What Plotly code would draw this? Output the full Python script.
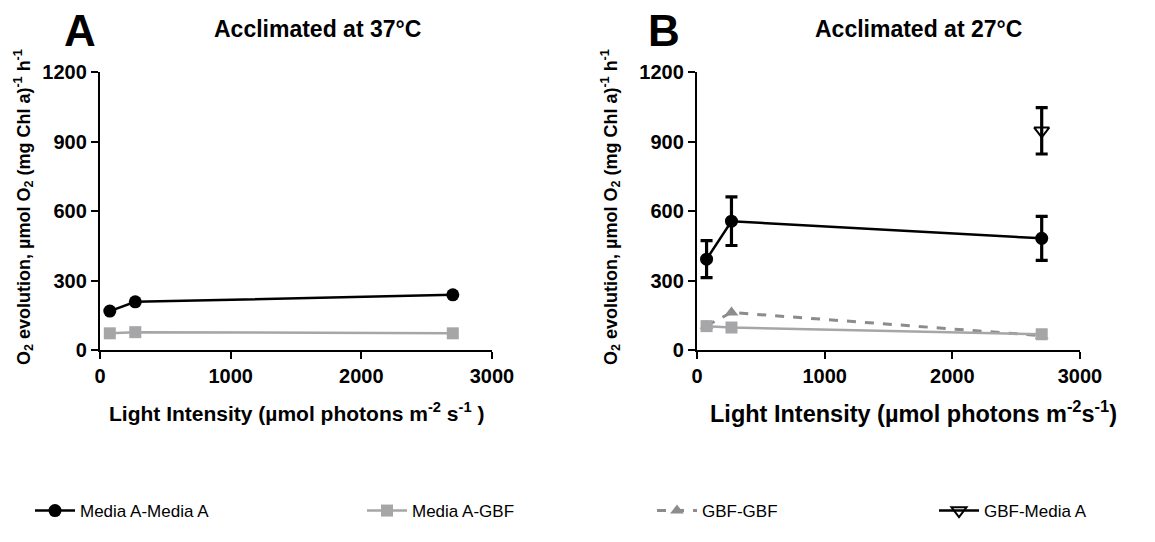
import plotly.graph_objects as go

# ---- data ----
light = [75, 270, 2700]

# Panel A (acclimated at 37 °C)
a_mediaA_mediaA = [168, 208, 238]
a_mediaA_gbf = [72, 77, 72]

# Panel B (acclimated at 27 °C)
b_mediaA_mediaA = [392, 556, 482]
b_mediaA_mediaA_err = [80, 105, 95]
b_mediaA_gbf = [103, 97, 68]
b_gbf_gbf = [105, 162, 62]
b_gbf_mediaA_x = [2700]
b_gbf_mediaA = [946]
b_gbf_mediaA_err = [100]

series_names = ["Media A-Media A", "Media A-GBF", "GBF-GBF", "GBF-Media A"]
titles = ["Acclimated at 37°C", "Acclimated at 27°C"]
panel_letters = ["A", "B"]
x_titles = [
    "Light Intensity (µmol photons m<sup>-2</sup> s<sup>-1</sup> )",
    "Light Intensity (µmol photons m<sup>-2</sup>s<sup>-1</sup>)",
]
y_title = "O<sub>2</sub> evolution, µmol O<sub>2</sub> (mg Chl a)<sup>-1</sup> h<sup>-1</sup>"
x_ticks = [0, 1000, 2000, 3000]
y_ticks = [0, 300, 600, 900, 1200]

FONT = "Liberation Sans, Arial, sans-serif"
W, H = 1155, 542
BLACK = "#000000"
LGRAY = "#a6a6a8"
DGRAY = "#8c8c8e"

fig = go.Figure()

# Panel A traces
fig.add_trace(go.Scatter(x=light, y=a_mediaA_mediaA, mode="lines+markers",
                         line=dict(color=BLACK, width=2.5),
                         marker=dict(symbol="circle", size=13, color=BLACK),
                         xaxis="x", yaxis="y", showlegend=False, cliponaxis=False))
fig.add_trace(go.Scatter(x=light, y=a_mediaA_gbf, mode="lines+markers",
                         line=dict(color=LGRAY, width=2.5),
                         marker=dict(symbol="square", size=12, color=LGRAY),
                         xaxis="x", yaxis="y", showlegend=False, cliponaxis=False))

# Panel B traces
fig.add_trace(go.Scatter(x=light, y=b_gbf_gbf, mode="lines+markers", name=series_names[2],
                         line=dict(color=DGRAY, width=3, dash="dash"),
                         marker=dict(symbol="triangle-up", size=12, color=DGRAY),
                         xaxis="x2", yaxis="y2", legend="legend3", cliponaxis=False))
fig.add_trace(go.Scatter(x=light, y=b_mediaA_gbf, mode="lines+markers", name=series_names[1],
                         line=dict(color=LGRAY, width=2.5),
                         marker=dict(symbol="square", size=12, color=LGRAY),
                         xaxis="x2", yaxis="y2", legend="legend2", cliponaxis=False))
fig.add_trace(go.Scatter(x=light, y=b_mediaA_mediaA, mode="lines+markers", name=series_names[0],
                         line=dict(color=BLACK, width=2.5),
                         marker=dict(symbol="circle", size=13, color=BLACK),
                         error_y=dict(type="data", array=b_mediaA_mediaA_err, color=BLACK,
                                      thickness=3.2, width=6),
                         xaxis="x2", yaxis="y2", legend="legend", cliponaxis=False))
fig.add_trace(go.Scatter(x=b_gbf_mediaA_x, y=b_gbf_mediaA, mode="lines+markers", name=series_names[3],
                         line=dict(color=BLACK, width=2.5),
                         marker=dict(symbol="triangle-down-open", size=13, color=BLACK,
                                     line=dict(width=2, color=BLACK)),
                         error_y=dict(type="data", array=b_gbf_mediaA_err, color=BLACK,
                                      thickness=3.2, width=6),
                         xaxis="x2", yaxis="y2", legend="legend4", cliponaxis=False))

# geometry (pixels)
px_x = [(100, 492), (697, 1080)]
py = (72, 350)

def xd(a, b):
    return [a / W, b / W]

def yd(a, b):
    return [1 - b / H, 1 - a / H]

tickfont = dict(family=FONT, size=20, color=BLACK, weight="bold")
axis_common = dict(showgrid=False, zeroline=False, showline=True, linecolor=BLACK,
                   linewidth=2.4, ticks="outside", ticklen=7, tickwidth=2.4, tickcolor=BLACK,
                   tickfont=tickfont, mirror=False, automargin=False)

layout = dict(
    width=W, height=H,
    margin=dict(l=0, r=0, t=0, b=0, autoexpand=False),
    paper_bgcolor="white", plot_bgcolor="white",
    font=dict(family=FONT, color=BLACK),
    xaxis=dict(domain=xd(*px_x[0]), range=[0, 3000], tickvals=x_ticks, anchor="y", **axis_common),
    yaxis=dict(domain=yd(*py), range=[0, 1200], tickvals=y_ticks, anchor="x", **axis_common),
    xaxis2=dict(domain=xd(*px_x[1]), range=[0, 3000], tickvals=x_ticks, anchor="y2", **axis_common),
    yaxis2=dict(domain=yd(*py), range=[0, 1200], tickvals=y_ticks, anchor="x2", **axis_common),
)

leg_common = dict(orientation="h", yanchor="middle", xanchor="left", y=1 - 511 / H,
                  font=dict(family=FONT, size=17, color=BLACK), bgcolor="rgba(0,0,0,0)",
                  itemwidth=40)
legend_x = [30, 362, 652, 934]
layout["legend"] = dict(x=legend_x[0] / W, **leg_common)
layout["legend2"] = dict(x=legend_x[1] / W, **leg_common)
layout["legend3"] = dict(x=legend_x[2] / W, **leg_common)
layout["legend4"] = dict(x=legend_x[3] / W, **leg_common)

annotations = []
title_cx = [317, 918]
letter_x = [80, 664]
ytitle_x = [23, 610]
xtitle_cx = [296, 913]
xtitle_size = [21, 23.5]
for i in range(2):
    annotations.append(dict(text="<b>" + titles[i] + "</b>", x=title_cx[i] / W, y=1 - 29 / H,
                            xref="paper", yref="paper", xanchor="center", yanchor="middle",
                            showarrow=False, font=dict(family=FONT, size=23, color=BLACK)))
    annotations.append(dict(text="<b>" + panel_letters[i] + "</b>", x=letter_x[i] / W, y=1 - 30 / H,
                            xref="paper", yref="paper", xanchor="center", yanchor="middle",
                            showarrow=False, font=dict(family=FONT, size=44, color=BLACK)))
    annotations.append(dict(text="<b>" + y_title + "</b>", x=ytitle_x[i] / W, y=1 - 207 / H,
                            xref="paper", yref="paper", xanchor="center", yanchor="middle",
                            textangle=-90, showarrow=False,
                            font=dict(family=FONT, size=18, color=BLACK)))
    annotations.append(dict(text="<b>" + x_titles[i] + "</b>", x=xtitle_cx[i] / W, y=1 - 412 / H,
                            xref="paper", yref="paper", xanchor="center", yanchor="middle",
                            showarrow=False, font=dict(family=FONT, size=xtitle_size[i], color=BLACK)))
layout["annotations"] = annotations

fig.update_layout(**layout)
fig.write_html("out.html")
